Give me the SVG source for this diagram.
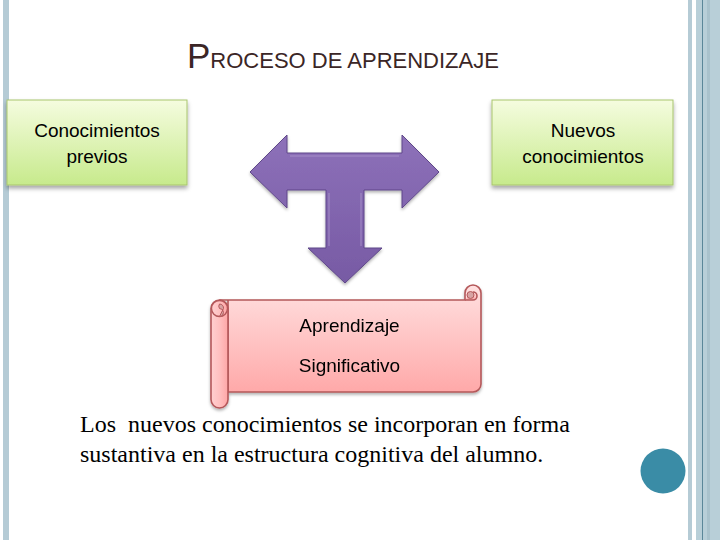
<svg xmlns="http://www.w3.org/2000/svg" width="720" height="540" viewBox="0 0 720 540">
<defs>
<linearGradient id="gGreen" x1="0" y1="0" x2="0" y2="1">
<stop offset="0" stop-color="#f5fcdf"/>
<stop offset="1" stop-color="#c7ea8c"/>
</linearGradient>
<linearGradient id="gPurple" x1="0" y1="0" x2="0" y2="1">
<stop offset="0" stop-color="#8d71b9"/>
<stop offset="1" stop-color="#775aa4"/>
</linearGradient>
<linearGradient id="gPink" x1="0" y1="0" x2="0" y2="1">
<stop offset="0" stop-color="#ffe0e0"/>
<stop offset="1" stop-color="#ffa9a9"/>
</linearGradient>
<linearGradient id="gRoll" x1="0" y1="0" x2="1" y2="0">
<stop offset="0" stop-color="#ffd0d0"/>
<stop offset="0.5" stop-color="#ffc0c0"/>
<stop offset="1" stop-color="#ffa6a6"/>
</linearGradient>
<filter id="sh" x="-10%" y="-10%" width="120%" height="130%">
<feDropShadow dx="0" dy="3" stdDeviation="2" flood-color="#000" flood-opacity="0.35"/>
</filter>
<filter id="sh2" x="-10%" y="-10%" width="120%" height="130%">
<feDropShadow dx="0" dy="2" stdDeviation="1.5" flood-color="#000" flood-opacity="0.3"/>
</filter>
</defs>
<style>
.box{fill:url(#gGreen);stroke:#a9c56f;stroke-width:1;filter:url(#sh)}
.lbl{font-family:"Liberation Sans",Arial,sans-serif;font-size:19px;fill:#000;text-anchor:middle}
.scroll{fill:url(#gPink);stroke:#b4585a;stroke-width:1.6;stroke-linejoin:round}
.body{font-family:"Liberation Serif","Times New Roman",serif;font-size:24px;fill:#000}
</style>
<rect width="720" height="540" fill="#ffffff"/>
<g id="frame">
<rect x="3" y="0" width="6" height="540" fill="#b5cbd5"/>
<rect x="688" y="0" width="4" height="540" fill="#b5cbd5"/>
<rect x="696" y="0" width="24" height="540" fill="#b8cfd8"/>
<rect x="707" y="0" width="3" height="540" fill="#a9c2cc"/>
<rect x="702" y="0" width="1" height="540" fill="#5b8799"/>
</g>
<g id="title">
<text x="187" y="68" fill="#3b2626" font-family="'Liberation Sans',Arial,sans-serif" font-size="22"><tspan font-size="35">P</tspan>ROCESO DE APRENDIZAJE</text>
</g>
<g id="conocimientos-previos">
<rect class="box" x="7" y="100" width="180" height="85"/>
<text class="lbl" x="97" y="137">Conocimientos</text>
<text class="lbl" x="97" y="163">previos</text>
</g>
<g id="nuevos-conocimientos">
<rect class="box" x="492" y="100" width="181" height="85"/>
<text class="lbl" x="583" y="137">Nuevos</text>
<text class="lbl" x="583" y="163">conocimientos</text>
</g>
<g id="connectors">
<path d="M250,172 L287,135 L287,153 L402,153 L402,135 L439,172 L402,208 L402,190 L364,190 L364,248 L382,248 L345,283 L308,248 L326,248 L326,190 L287,190 L287,208 Z" fill="url(#gPurple)" stroke="#5f4789" stroke-width="1" stroke-linejoin="round" filter="url(#sh2)"/>
<path d="M290,156 L399,156 M329,193 L329,246 M361,193 L361,246" fill="none" stroke="#a892cc" stroke-width="1.5" opacity="0.6"/>
</g>
<g id="aprendizaje-significativo" filter="url(#sh2)">
<path class="scroll" d="M220,300 L465,300 L465,293 A8,8 0 0 1 481,293 L481,384 A8,8 0 0 1 473,392 L228,392 L228,300 Z"/>
<path class="scroll" d="M465,300 L473,300 A4,4 0 0 0 473,292" fill="none"/>
<circle cx="470.5" cy="295" r="3.5" fill="#d7a3a3" stroke="#b4585a" stroke-width="1"/>
<rect x="211" y="300" width="17" height="108" rx="8.5" ry="8.5" fill="url(#gRoll)" stroke="#b4585a" stroke-width="1.6"/>
<circle cx="219.5" cy="308.5" r="8" fill="url(#gRoll)" stroke="#b4585a" stroke-width="1.4"/>
<path d="M219.5,316.5 A4,4 0 0 0 219.5,308.5 A4,4 0 0 1 219.5,304 A4,4 0 0 1 223.5,308.5 Z" fill="#d7a3a3" stroke="#b4585a" stroke-width="1"/>
<text class="lbl" x="349.5" y="332" filter="none">Aprendizaje</text>
<text class="lbl" x="349.5" y="372" filter="none">Significativo</text>
</g>
<g id="texto">
<text class="body" x="80" y="432" xml:space="preserve">Los  nuevos conocimientos se incorporan en forma</text>
<text class="body" x="80" y="462">sustantiva en la estructura cognitiva del alumno.</text>
</g>
<circle id="dot" cx="663" cy="471" r="22.5" fill="#3a8ca6"/>
</svg>
